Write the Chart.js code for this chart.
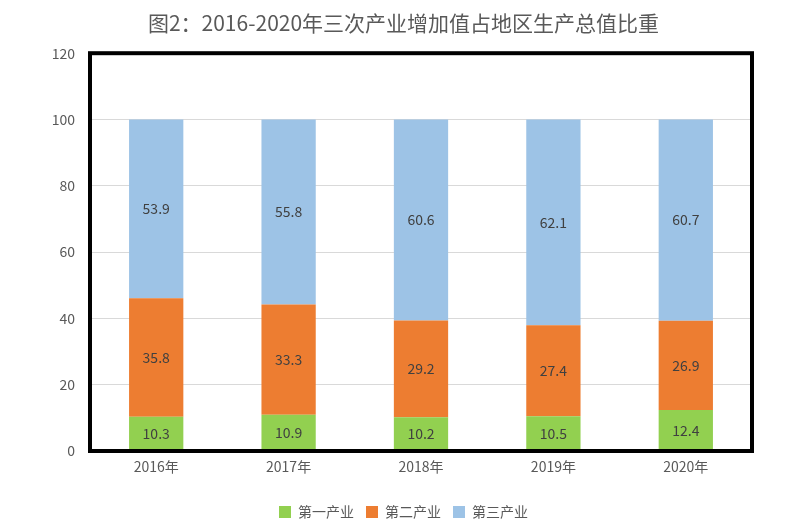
<!DOCTYPE html>
<html>
<head>
<meta charset="utf-8">
<script src="https://cdn.jsdelivr.net/npm/chart.js@4/dist/chart.umd.min.js"></script>
<style>
  html, body { margin: 0; padding: 0; background: #fff; }
  #wrap { width: 807px; height: 521px; }
</style>
</head>
<body>
<div id="wrap"><canvas id="chart" width="807" height="521"></canvas></div>
<script>
// 年份与三次产业占比（%）
const years = ['2016年', '2017年', '2018年', '2019年', '2020年'];
const primary = [10.3, 10.9, 10.2, 10.5, 12.4];
const secondary = [35.8, 33.3, 29.2, 27.4, 26.9];
const tertiary = [53.9, 55.8, 60.6, 62.1, 60.7];
const seriesNames = ['第一产业', '第二产业', '第三产业'];
const yTicks = [0, 20, 40, 60, 80, 100, 120];

const FONT = "'Noto Sans CJK SC', 'Noto Sans', sans-serif";

// 柱内数值标签
const barLabels = {
    id: 'barLabels',
    afterDatasetsDraw(chart) {
        const ctx = chart.ctx;
        ctx.save();
        ctx.font = '14px ' + FONT;
        ctx.fillStyle = '#404040';
        ctx.textAlign = 'center';
        ctx.textBaseline = 'middle';
        chart.data.datasets.forEach((ds, i) => {
            chart.getDatasetMeta(i).data.forEach((bar, j) => {
                const mid = (bar.y + bar.base) / 2;
                ctx.fillText(ds.data[j].toFixed(1), bar.x, mid);
            });
        });
        ctx.restore();
    }
};

// 绘图区黑色粗边框
const plotFrame = {
    id: 'plotFrame',
    afterDraw(chart) {
        const a = chart.chartArea;
        const ctx = chart.ctx;
        ctx.save();
        ctx.strokeStyle = '#000';
        ctx.lineWidth = 4;
        ctx.strokeRect(a.left, a.top, a.right - a.left, a.bottom - a.top);
        ctx.restore();
    }
};

new Chart(document.getElementById('chart'), {
    type: 'bar',
    data: {
        labels: years,
        datasets: [
            { label: seriesNames[0], data: primary, backgroundColor: '#92D050' },
            { label: seriesNames[1], data: secondary, backgroundColor: '#ED7D31' },
            { label: seriesNames[2], data: tertiary, backgroundColor: '#9DC3E6' }
        ]
    },
    options: {
        responsive: false,
        animation: false,
        devicePixelRatio: 1,
        layout: { padding: { left: 0, right: 0, top: 0, bottom: -8 } },
        datasets: { bar: { categoryPercentage: 1, barPercentage: 0.41 } },
        plugins: {
            title: {
                display: true,
                text: '图2：2016-2020年三次产业增加值占地区生产总值比重',
                color: '#595959',
                font: { family: FONT, size: 21, weight: 'normal' },
                padding: { top: 10, bottom: 18 }
            },
            legend: {
                position: 'bottom',
                labels: {
                    color: '#595959',
                    font: { family: FONT, size: 14 },
                    boxWidth: 12,
                    boxHeight: 12,
                    padding: 12
                }
            },
            tooltip: { enabled: false }
        },
        scales: {
            x: {
                stacked: true,
                grid: { display: false, drawTicks: false },
                border: { display: false },
                ticks: { color: '#595959', font: { family: FONT, size: 14 }, padding: 7 },
                afterFit(axis) { axis.height = 42; }
            },
            y: {
                stacked: true,
                min: 0,
                max: 120,
                afterBuildTicks(axis) { axis.ticks = yTicks.map(v => ({ value: v })); },
                grid: { color: '#d9d9d9', lineWidth: 1, drawTicks: false },
                border: { display: false },
                ticks: { color: '#595959', font: { family: FONT, size: 14 }, padding: 15 },
                afterFit(axis) { axis.width = 90; }
            },
            // 右侧留白，保持标题和图例居中
            yRight: {
                position: 'right',
                min: 0,
                max: 120,
                grid: { display: false, drawTicks: false },
                border: { display: false },
                ticks: { display: false },
                afterFit(axis) { axis.width = 55; }
            }
        }
    },
    plugins: [barLabels, plotFrame]
});
</script>
</body>
</html>
